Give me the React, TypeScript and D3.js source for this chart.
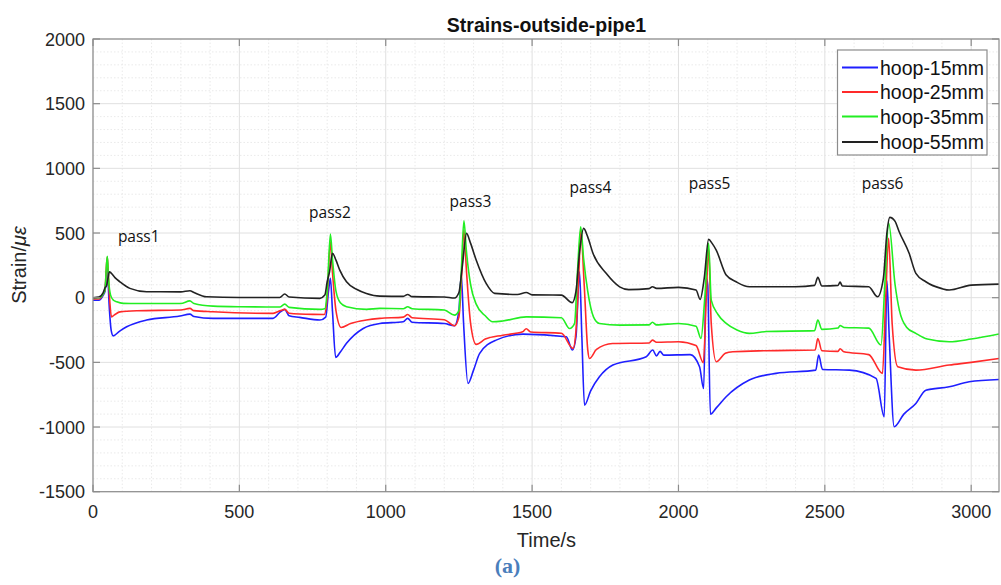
import React from "react";
import * as d3 from "d3";

// ---------- data ----------
const seriesNames = ["hoop-15mm", "hoop-25mm", "hoop-35mm", "hoop-55mm"];
const seriesColors = ["#1f1fff", "#ff2a2a", "#22ee22", "#222222"];

const xTicks = [0, 500, 1000, 1500, 2000, 2500, 3000];
const yTicks = [-1500, -1000, -500, 0, 500, 1000, 1500, 2000];

const passLabels = ["pass1", "pass2", "pass3", "pass4", "pass5", "pass6"];
const passTime = [85, 738, 1218, 1628, 2035, 2626];
const passStrain = [430, 615, 700, 810, 840, 840];

// hoop-15mm (blue)
const t15 = [0, 20, 35, 41, 46, 49, 55, 62, 69, 90, 115, 183, 297, 331, 345, 410, 615, 640, 655, 670, 706, 775, 795, 805, 811, 818, 829, 845, 866, 923, 980, 1060, 1075, 1090, 1200, 1235, 1250, 1258, 1266, 1281, 1300, 1321, 1377, 1469, 1617, 1638, 1650, 1662, 1670, 1679, 1700, 1730, 1776, 1890, 1912, 1925, 1937, 1950, 2040, 2072, 2086, 2095, 2100, 2109, 2130, 2163, 2242, 2333, 2469, 2479, 2492, 2584, 2675, 2703, 2712, 2720, 2737, 2770, 2811, 2845, 2925, 2993, 3095];
const v15 = [-20, -20, 20, 50, 200, 230, -50, -250, -295, -260, -225, -173, -142, -127, -145, -160, -160, -110, -90, -140, -152, -173, -150, 60, 150, -100, -462, -420, -353, -238, -199, -186, -160, -190, -200, -217, -100, 175, -200, -663, -560, -431, -328, -282, -302, -405, -300, 200, -300, -831, -720, -612, -521, -457, -405, -450, -415, -444, -440, -534, -702, 150, 100, -900, -850, -766, -637, -585, -560, -444, -555, -560, -624, -921, 130, -300, -998, -900, -818, -715, -689, -650, -632];

// hoop-25mm (red)
const t25 = [0, 20, 35, 41, 46, 49, 53, 58, 63, 75, 92, 150, 300, 331, 345, 410, 615, 640, 655, 670, 751, 790, 800, 811, 818, 830, 848, 880, 934, 980, 1060, 1075, 1090, 1200, 1235, 1250, 1260, 1267, 1276, 1290, 1309, 1340, 1400, 1468, 1480, 1495, 1600, 1640, 1650, 1660, 1666, 1678, 1690, 1696, 1720, 1775, 1900, 1911, 1925, 2000, 2060, 2085, 2095, 2103, 2112, 2129, 2160, 2186, 2300, 2467, 2476, 2490, 2545, 2552, 2565, 2650, 2697, 2708, 2718, 2730, 2749, 2811, 2925, 3000, 3095];
const v25 = [-10, -10, 30, 60, 250, 315, 150, -50, -148, -130, -110, -101, -95, -83, -100, -109, -121, -100, -90, -120, -129, -130, 0, 432, 200, -100, -230, -200, -173, -160, -150, -130, -155, -170, -217, -150, 200, 523, 200, -200, -361, -320, -290, -264, -240, -265, -275, -392, -250, 200, 530, 100, -400, -470, -400, -354, -350, -328, -345, -341, -370, -503, 0, 380, -200, -495, -430, -418, -410, -405, -315, -410, -415, -395, -418, -440, -585, 0, 460, -200, -534, -560, -521, -500, -470];

// hoop-35mm (green)
const t35 = [0, 20, 35, 41, 46, 49, 53, 60, 70, 81, 103, 183, 300, 331, 345, 410, 500, 638, 655, 670, 775, 792, 800, 811, 818, 830, 845, 866, 934, 980, 1060, 1075, 1090, 1200, 1235, 1250, 1258, 1267, 1276, 1290, 1309, 1340, 1365, 1400, 1480, 1600, 1628, 1645, 1655, 1666, 1676, 1690, 1710, 1730, 1800, 1900, 1911, 1925, 2000, 2060, 2077, 2090, 2103, 2112, 2135, 2163, 2200, 2242, 2300, 2465, 2476, 2490, 2545, 2552, 2565, 2650, 2692, 2705, 2718, 2740, 2755, 2780, 2811, 2850, 2925, 3000, 3095];
const v35 = [0, 0, 30, 60, 250, 320, 150, 20, -20, -32, -44, -45, -45, -25, -45, -65, -70, -72, -50, -75, -90, -85, 50, 492, 300, 50, -40, -70, -90, -83, -85, -70, -85, -95, -135, -100, 200, 595, 350, 100, -50, -140, -186, -180, -148, -155, -238, -200, 200, 548, 300, 50, -150, -199, -212, -210, -190, -210, -199, -220, -315, 0, 420, -19, -130, -199, -250, -276, -262, -255, -173, -245, -235, -215, -230, -235, -366, 100, 577, 100, -100, -230, -276, -320, -341, -320, -281];

// hoop-55mm (black)
const t55 = [0, 20, 35, 41, 46, 52, 56, 62, 75, 92, 126, 183, 300, 331, 345, 388, 500, 638, 655, 670, 775, 792, 800, 808, 818, 830, 843, 866, 900, 934, 980, 1060, 1075, 1090, 1200, 1235, 1250, 1262, 1276, 1290, 1309, 1343, 1372, 1450, 1480, 1500, 1600, 1637, 1650, 1662, 1676, 1690, 1708, 1753, 1799, 1830, 1900, 1911, 1925, 2000, 2060, 2074, 2088, 2103, 2115, 2129, 2163, 2197, 2242, 2400, 2465, 2476, 2490, 2545, 2552, 2560, 2650, 2680, 2700, 2712, 2722, 2740, 2754, 2788, 2811, 2845, 2900, 2925, 3000, 3095];
const v55 = [0, 5, 40, 75, 90, 160, 200, 190, 155, 123, 72, 46, 45, 54, 40, 7, 2, 2, 28, 5, -5, 20, 123, 200, 343, 290, 213, 123, 65, 33, 12, 10, 25, 8, 5, -3, 40, 250, 497, 420, 291, 110, 33, 25, 40, 22, 20, -39, 50, 350, 536, 470, 343, 188, 84, 62, 70, 85, 72, 80, 60, -13, 150, 451, 420, 368, 175, 123, 84, 85, 95, 157, 90, 95, 120, 90, 85, 7, 150, 500, 621, 590, 510, 343, 188, 123, 70, 59, 97, 105];

const seriesTimes = [t15, t25, t35, t55];
const seriesValues = [v15, v25, v35, v55];

// ---------- layout ----------
const W = 1001;
const H = 585;
const L = 93;
const R = 999;
const T = 39;
const B = 491.7;
const FONT = "'Liberation Sans', Arial, sans-serif";

export default function App() {
  const x = d3.scaleLinear().domain([0, 3095]).range([L, R]);
  const y = d3.scaleLinear().domain([-1500, 2000]).range([B, T]);

  const minorX = d3.range(0, 3095, 100).filter((v) => v % 500 !== 0);
  const minorY = d3.range(-1500, 2001, 100).filter((v) => v % 500 !== 0);

  const line = d3
    .line<[number, number]>()
    .x((d) => x(d[0]))
    .y((d) => y(d[1]))
    .curve(d3.curveMonotoneX);

  const legendX = 837.5;
  const legendY = 50;
  const legendW = 149.5;
  const legendH = 105;
  const rowY = [67.5, 92, 116.5, 142];

  return (
    <svg
      width={W}
      height={H}
      style={{ position: "absolute", left: 0, top: 0, background: "#fff" }}
      fontFamily={FONT}
    >
      <defs>
        <clipPath id="plotClip">
          <rect x={L} y={T} width={R - L} height={B - T} />
        </clipPath>
      </defs>
      <rect x={L} y={T} width={R - L} height={B - T} fill="#fff" />
      {/* minor grid */}
      <g stroke="#e4e4e4" strokeWidth={0.8} strokeDasharray="1.5,2">
        {minorX.map((v) => (
          <line key={"mx" + v} x1={x(v)} x2={x(v)} y1={T} y2={B} />
        ))}
        {minorY.map((v) => (
          <line key={"my" + v} x1={L} x2={R} y1={y(v)} y2={y(v)} />
        ))}
      </g>
      {/* major grid */}
      <g stroke="#e0e0e0" strokeWidth={1}>
        {xTicks.map((v) => (
          <line key={"gx" + v} x1={x(v)} x2={x(v)} y1={T} y2={B} />
        ))}
        {yTicks.map((v) => (
          <line key={"gy" + v} x1={L} x2={R} y1={y(v)} y2={y(v)} />
        ))}
      </g>

      {/* series */}
      <g clipPath="url(#plotClip)" fill="none" strokeWidth={1.6} strokeLinejoin="round">
        {seriesTimes.map((ts, i) => {
          const pts = ts.map((t, j) => [t, seriesValues[i][j]] as [number, number]);
          return <path key={seriesNames[i]} d={line(pts) || ""} stroke={seriesColors[i]} />;
        })}
      </g>

      {/* frame + ticks */}
      <rect x={L} y={T} width={R - L} height={B - T} fill="none" stroke="#8c8c8c" strokeWidth={1.2} />
      <g stroke="#8c8c8c" strokeWidth={1.2}>
        {xTicks.map((v) => (
          <g key={"tx" + v}>
            <line x1={x(v)} x2={x(v)} y1={B} y2={B - 7} />
            <line x1={x(v)} x2={x(v)} y1={T} y2={T + 7} />
          </g>
        ))}
        {yTicks.map((v) => (
          <g key={"ty" + v}>
            <line x1={L} x2={L + 7} y1={y(v)} y2={y(v)} />
            <line x1={R} x2={R - 7} y1={y(v)} y2={y(v)} />
          </g>
        ))}
      </g>

      {/* tick labels */}
      <g fill="#262626" fontSize={18}>
        {xTicks.map((v) => (
          <text key={"lx" + v} x={x(v)} y={518} textAnchor="middle">
            {v}
          </text>
        ))}
        {yTicks.map((v) => (
          <text key={"ly" + v} x={85} y={y(v) + 6.5} textAnchor="end">
            {v}
          </text>
        ))}
      </g>

      {/* title and axis labels */}
      <text x={546.5} y={31.5} textAnchor="middle" fontSize={19.5} fontWeight="bold" fill="#111">
        Strains-outside-pipe1
      </text>
      <text x={546.5} y={546.5} textAnchor="middle" fontSize={20} fill="#262626">
        Time/s
      </text>
      <text
        transform="translate(26,265) rotate(-90)"
        textAnchor="middle"
        fontSize={20}
        fill="#262626"
      >
        Strain/<tspan fontStyle="italic">με</tspan>
      </text>
      <text
        x={507.5}
        y={573}
        textAnchor="middle"
        fontSize={22}
        fontWeight="bold"
        fill="#4a7ebb"
        fontFamily="'Liberation Serif', 'DejaVu Serif', serif"
      >
        (a)
      </text>

      {/* pass labels */}
      <g fontFamily="'Open Sans', sans-serif" fontSize={15.5} fill="#111">
        {passLabels.map((p, i) => (
          <text key={p} x={x(passTime[i])} y={y(passStrain[i])}>
            {p}
          </text>
        ))}
      </g>

      {/* legend */}
      <rect x={legendX} y={legendY} width={legendW} height={legendH} fill="#fff" stroke="#8c8c8c" strokeWidth={1.2} />
      {seriesNames.map((n, i) => (
        <g key={"lg" + n}>
          <line x1={842} x2={878} y1={rowY[i]} y2={rowY[i]} stroke={seriesColors[i]} strokeWidth={1.8} />
          <text x={880} y={rowY[i] + 7} fontSize={19.5} fill="#111">
            {n}
          </text>
        </g>
      ))}
    </svg>
  );
}
